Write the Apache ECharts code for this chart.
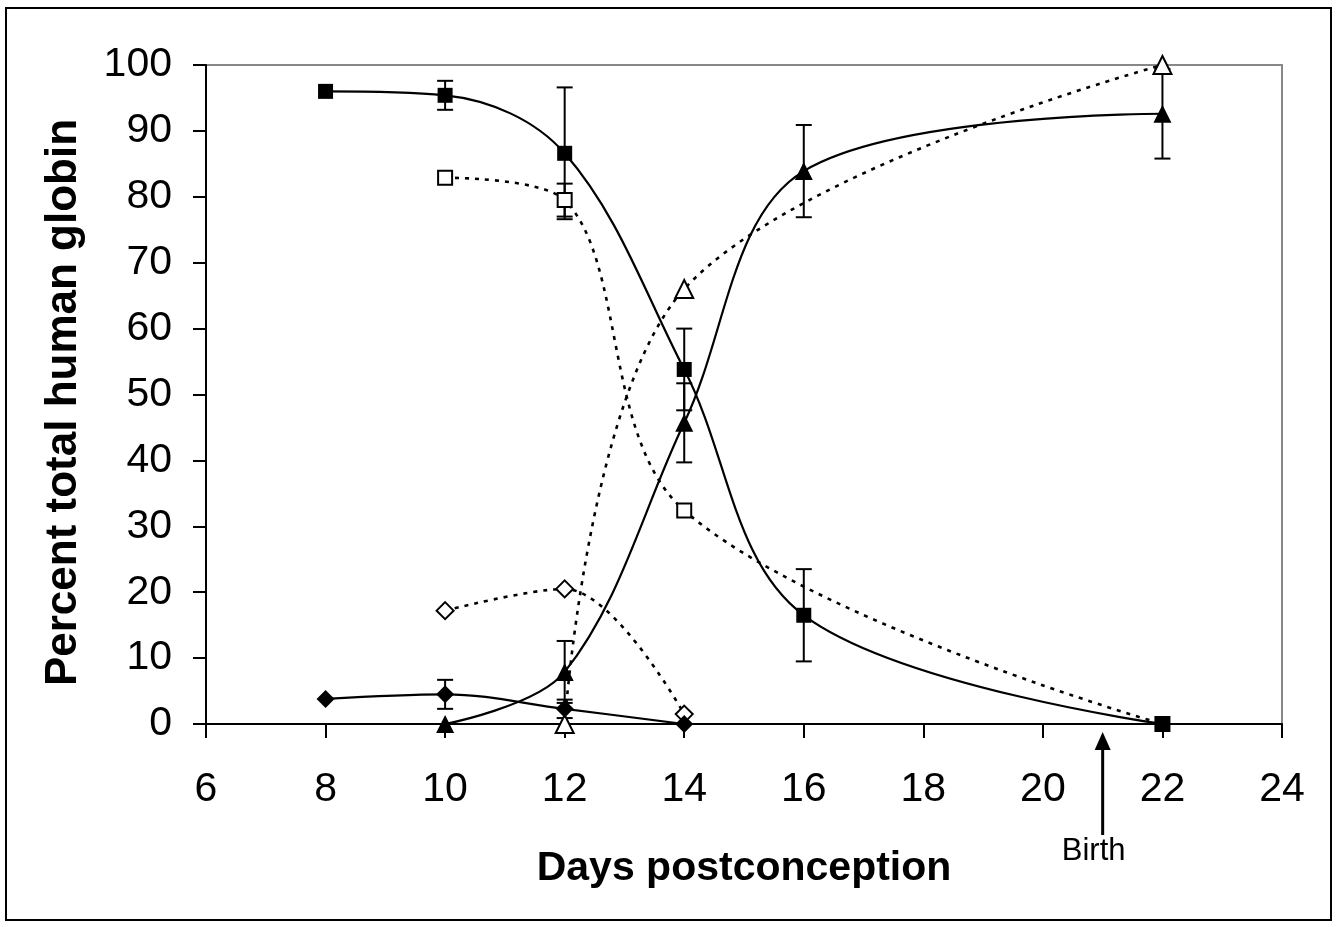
<!DOCTYPE html>
<html>
<head>
<meta charset="utf-8">
<script src="https://cdn.jsdelivr.net/npm/echarts@6/dist/echarts.min.js"></script>
<style>
  html, body { margin: 0; padding: 0; background: #fff; }
  #chart { width: 1337px; height: 927px; }
</style>
</head>
<body>
<div id="chart"></div>
<script>
// values (days postconception -> percent)
var sqFilledX = [8, 10, 12, 14, 16, 22];
var sqFilledY = [96, 95.4, 86.6, 53.8, 16.5, 0];
var sqFilledErr = [0, 2.2, 10, 6.2, 7, 0];

var sqOpenX = [10, 12, 14, 22];
var sqOpenY = [82.9, 79.5, 32.4, 0];
var sqOpenErr = [0, 2.5, 0, 0];

var triFilledX = [10, 12, 14, 16, 22];
var triFilledY = [0, 7.9, 45.7, 83.9, 92.6];
var triFilledErr = [0, 4.7, 6, 7, 6.8];

var triOpenX = [12, 14, 22];
var triOpenY = [0, 66, 100];

var diaFilledX = [8, 10, 12, 14];
var diaFilledY = [3.8, 4.5, 2.3, 0];
var diaFilledErr = [0, 2.2, 1.4, 0];

var diaOpenX = [10, 12, 14];
var diaOpenY = [17.2, 20.5, 1.5];

var birthDay = 21;

var FONT = 'Liberation Sans, Arial, sans-serif';

function pairs(xs, ys) {
    return xs.map(function (x, i) { return [x, ys[i]]; });
}
// error bar rows [x, low, high]
var errData = [];
function addErr(xs, ys, es) {
    xs.forEach(function (x, i) {
        if (es[i] > 0) errData.push([x, ys[i] - es[i], ys[i] + es[i]]);
    });
}
addErr(sqFilledX, sqFilledY, sqFilledErr);
addErr(sqOpenX, sqOpenY, sqOpenErr);
addErr(triFilledX, triFilledY, triFilledErr);
addErr(diaFilledX, diaFilledY, diaFilledErr);

var solid = { color: '#000', width: 2.2, type: 'solid' };
var dotted = { color: '#000', width: 2.6, type: [4, 6] };
var filled = { color: '#000' };
var hollow = { color: '#fff', borderColor: '#000', borderWidth: 2 };

function lineSeries(name, data, symbol, size, line, item) {
    return {
        name: name,
        type: 'line',
        data: data,
        smooth: 0.35,
        symbol: symbol,
        symbolSize: size,
        showAllSymbol: true,
        lineStyle: line,
        itemStyle: item,
        emphasis: { disabled: true },
        z: 3
    };
}

var chart = echarts.init(document.getElementById('chart'));

var option = {
    backgroundColor: '#fff',
    animation: false,
    grid: {
        left: 206, top: 65, width: 1076, height: 659,
        show: true, borderColor: '#888', borderWidth: 2
    },
    xAxis: {
        type: 'value',
        min: 6, max: 24, interval: 2,
        name: 'Days postconception',
        nameLocation: 'middle',
        nameGap: 124,
        nameTextStyle: { fontFamily: FONT, fontSize: 41, fontWeight: 'bold', color: '#000' },
        axisLine: { show: true, onZero: false, lineStyle: { color: '#000', width: 2 } },
        axisTick: { show: true, inside: false, length: 14, lineStyle: { color: '#000', width: 2 } },
        axisLabel: { fontFamily: FONT, fontSize: 41, color: '#000', margin: 45 },
        splitLine: { show: false }
    },
    yAxis: {
        type: 'value',
        min: 0, max: 100, interval: 10,
        name: 'Percent total human globin',
        nameLocation: 'middle',
        nameGap: 120,
        nameTextStyle: {
            fontFamily: FONT, fontSize: 44, fontWeight: 'bold', color: '#000',
            padding: [0, 16, 0, 0]
        },
        axisLine: { show: true, lineStyle: { color: '#000', width: 2 } },
        axisTick: { show: true, inside: false, length: 13, lineStyle: { color: '#000', width: 2 } },
        axisLabel: { fontFamily: FONT, fontSize: 41, color: '#000', margin: 34 },
        splitLine: { show: false }
    },
    series: [
        {
            type: 'custom',
            name: 'error',
            data: errData,
            encode: { x: 0, y: [1, 2] },
            z: 2,
            renderItem: function (params, api) {
                var x = api.value(0);
                var top = api.coord([x, api.value(2)]);
                var bot = api.coord([x, api.value(1)]);
                var hw = 8;
                var st = { stroke: '#000', lineWidth: 2 };
                return {
                    type: 'group',
                    children: [
                        { type: 'line', shape: { x1: top[0], y1: top[1], x2: bot[0], y2: bot[1] }, style: st },
                        { type: 'line', shape: { x1: top[0] - hw, y1: top[1], x2: top[0] + hw, y2: top[1] }, style: st },
                        { type: 'line', shape: { x1: bot[0] - hw, y1: bot[1], x2: bot[0] + hw, y2: bot[1] }, style: st }
                    ]
                };
            }
        },
        lineSeries('sqOpen', pairs(sqOpenX, sqOpenY), 'rect', 14, dotted, hollow),
        lineSeries('triOpen', pairs(triOpenX, triOpenY), 'triangle', 18, dotted, hollow),
        lineSeries('diaOpen', pairs(diaOpenX, diaOpenY), 'diamond', 17, dotted, hollow),
        lineSeries('sqFilled', pairs(sqFilledX, sqFilledY), 'rect', 15, solid, filled),
        lineSeries('triFilled', pairs(triFilledX, triFilledY), 'triangle', 18, solid, filled),
        lineSeries('diaFilled', pairs(diaFilledX, diaFilledY), 'diamond', 18, solid, filled)
    ]
};

chart.setOption(option);

// outer frame and the Birth arrow below the axis
var p = chart.convertToPixel({ gridIndex: 0 }, [birthDay, 0]);
chart.setOption({
    graphic: [
        {
            type: 'rect',
            shape: { x: 6, y: 8, width: 1325, height: 912 },
            style: { fill: 'none', stroke: '#000', lineWidth: 2 },
            silent: true
        },
        {
            type: 'line',
            shape: { x1: p[0], y1: p[1] + 22, x2: p[0], y2: p[1] + 111 },
            style: { stroke: '#000', lineWidth: 3 }
        },
        {
            type: 'polygon',
            shape: { points: [[p[0], p[1] + 8], [p[0] - 8, p[1] + 26], [p[0] + 8, p[1] + 26]] },
            style: { fill: '#000' }
        },
        {
            type: 'text',
            x: p[0] - 9,
            y: p[1] + 112,
            style: {
                text: 'Birth',
                fontFamily: FONT,
                fontSize: 31,
                fill: '#000',
                textAlign: 'center',
                textVerticalAlign: 'top'
            }
        }
    ]
});
</script>
</body>
</html>
